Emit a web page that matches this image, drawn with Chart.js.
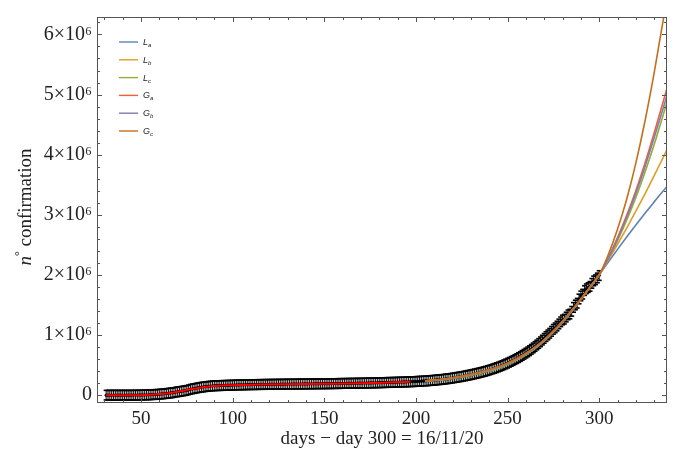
<!DOCTYPE html>
<html><head><meta charset="utf-8">
<script src="https://cdn.jsdelivr.net/npm/chart.js@4"></script>
<style>html,body{margin:0;padding:0;background:#fff;}#wrap{width:679px;height:452px;}</style>
</head><body><div id="wrap"><canvas id="c" width="679" height="452"></canvas></div>
<script>
// ---- data (thousands of confirmed cases) ----
const firstDay = 31;
const casesK = [
  0,0,0,0,0,0,0,0,0,0,
  0,0,0,0,0,1,1,1,2,2,
  3,4,5,5,7,9,11,12,14,16,
  20,22,25,29,32,37,40,44,52,56,
  60,65,70,75,80,90,98,105,110,117,
  122,128,133,137,141,145,148,151,154,156,
  158,159,160,161,162,163,164,165,166,167,
  168,169,170,171,172,172,173,174,175,175,
  176,176,177,177,178,178,179,179,180,180,
  180,181,181,182,182,182,183,183,183,184,
  184,184,185,185,185,186,186,186,187,187,
  187,188,188,188,189,189,189,190,190,190,
  191,191,192,192,193,193,194,194,195,195,
  196,196,197,197,198,198,199,199,200,200,
  201,201,202,203,203,204,205,205,206,207,
  208,209,210,211,212,212,213,214,215,216,
  217,218,219,220,221,222,224,225,226,228,
  230,231,233,235,237,239,241,244,246,249,
  252,255,258,261,264,268,272,276,280,285,
  290,295,300,305,310,316,322,328,334,340,
  347,354,361,368,375,383,391,399,408,417,
  427,437,447,458,469,481,493,506,519,533,
  547,562,577,593,609,626,643,661,680,700,
  720,741,763,786,810,835,861,888,916,945,
  975,1003,1030,1062,1095,1120,1150,1185,1220,1250,
  1265,1300,1335,1350,1395,1460,1500,1530,1600,1650,
  1680,1740,1770,1790,1810,1860,1900,1920,1950,1990
];
const errorK = 80;

const fitDays = [31,45,52,57,62,67,72,77,82,87,92,97,105,115,130,150,170,185,197];
const fitK    = [0,0,3,10,22,42,68,98,124,143,156,164,171,177,183,189,197,210,222];

const modelDays = [205,210,215,220,225,230,235,240,245,250,255,260,265,270,275,280,285,290,295,300,305,310,315,320,325,330,335,337];
const La = [240,252,267,289,315,346,382,421,469,529,605,695,800,922,1068,1230,1408,1596,1797,2000,2215,2425,2630,2830,3025,3215,3400,3470];
const Lb = [238,250,265,287,312,342,378,417,465,524,600,690,795,918,1062,1222,1400,1590,1795,2000,2250,2510,2780,3060,3350,3650,3960,4085];
const Lc = [230,240,253,272,297,327,362,402,450,510,585,672,775,900,1045,1210,1392,1588,1795,2000,2270,2570,2910,3290,3710,4170,4670,4875];
const Ga = [237,249,264,285,310,341,377,417,465,525,598,686,790,912,1056,1220,1400,1592,1797,2000,2290,2620,2990,3400,3860,4360,4890,5105];
const Gb = [236,248,263,284,309,340,376,416,464,524,597,685,788,910,1054,1218,1398,1591,1796,2000,2280,2600,2960,3360,3800,4280,4780,4985];
const Gc = [240,253,269,291,317,349,386,427,476,536,610,697,800,922,1066,1230,1408,1598,1800,2000,2340,2760,3260,3860,4560,5360,6250,6640];

const modelNames  = ['L','L','L','G','G','G'];
const modelSubs   = ['a','b','c','a','b','c'];
const modelSeries = [La, Lb, Lc, Ga, Gb, Gc];
const modelColors = ['#5e81b5','#e19c24','#8fb032','#eb6235','#8778b3','#c56e1a'];

const xTicks = [50,100,150,200,250,300];
const yTicks = [0,1e6,2e6,3e6,4e6,5e6,6e6];
const yTickLabels = ['0','1×10⁶','2×10⁶','3×10⁶','4×10⁶','5×10⁶','6×10⁶'];
const xTitle = 'days − day 300 = 16/11/20';

// ---- build datasets ----
const K = 1000;
const obsPoints = casesK.map((v, i) => ({x: firstDay + i, y: v * K}));
const datasets = [
  {label:'data', data: obsPoints, showLine:false, pointRadius:1.2, pointHoverRadius:0,
   backgroundColor:'#000', borderColor:'#000', errorBar: errorK * K, order: 10},
  {label:'fit', data: fitDays.map((d,i)=>({x:d, y:fitK[i]*K})), showLine:true, pointRadius:0,
   borderColor:'#ff0000', borderWidth:2, cubicInterpolationMode:'monotone', order: 9}
];
modelSeries.forEach((s, k) => {
  datasets.push({label: modelNames[k] + modelSubs[k], legendMain: modelNames[k], legendSub: modelSubs[k],
    data: modelDays.map((d,i)=>({x:d, y:s[i]*K})), showLine:true, pointRadius:0,
    borderColor: modelColors[k], borderWidth:1.6, cubicInterpolationMode:'monotone', order: 8 - k});
});

const SERIF = '"Liberation Serif", "DejaVu Serif", serif';
const SANS = '"Liberation Sans", "DejaVu Sans", sans-serif';

const errorBars = {
  id:'errorBars',
  beforeDatasetsDraw(chart){
    const {ctx, chartArea:a, scales:{x,y}} = chart;
    const ds = chart.data.datasets.find(d => d.errorBar);
    ctx.save();
    ctx.beginPath(); ctx.rect(a.left, a.top, a.right-a.left, a.bottom-a.top); ctx.clip();
    ctx.lineWidth = 1.1;
    ctx.strokeStyle = 'rgba(0,0,0,0.9)';
    ds.data.forEach(p => {
      const px = x.getPixelForValue(p.x);
      const y1 = y.getPixelForValue(p.y - ds.errorBar), y2 = y.getPixelForValue(p.y + ds.errorBar);
      ctx.beginPath(); ctx.moveTo(px, y1); ctx.lineTo(px, y2); ctx.stroke();
    });
    ctx.strokeStyle = '#000'; ctx.lineWidth = 1.6;
    ds.data.forEach(p => {
      const px = x.getPixelForValue(p.x);
      [p.y - ds.errorBar, p.y + ds.errorBar].forEach(v => {
        const py = y.getPixelForValue(v);
        ctx.beginPath(); ctx.moveTo(px-2.5, py); ctx.lineTo(px+2.5, py); ctx.stroke();
      });
    });
    ctx.restore();
  }
};

const frame = {
  id:'frame',
  afterDatasetsDraw(chart){
    const {ctx, chartArea:a, scales:{x,y}} = chart;
    ctx.save();
    ctx.strokeStyle = '#555'; ctx.lineWidth = 1;
    ctx.strokeRect(a.left+0.5, a.top+0.5, a.right-a.left-1, a.bottom-a.top-1);
    const seg = (x1,y1,x2,y2)=>{ctx.beginPath();ctx.moveTo(x1,y1);ctx.lineTo(x2,y2);ctx.stroke();};
    for (let v = 30; v <= x.max; v += 10) {
      const px = Math.round(x.getPixelForValue(v)) + 0.5;
      const len = xTicks.includes(v) ? 5 : 3;
      seg(px, a.bottom, px, a.bottom-len); seg(px, a.top, px, a.top+len);
    }
    for (let k = 0; k <= 31; k++) {
      const v = k * 2e5;
      if (v > y.max) break;
      const py = Math.round(y.getPixelForValue(v)) + 0.5;
      const len = (k % 5 === 0) ? 5 : 3;
      seg(a.left, py, a.left+len, py); seg(a.right, py, a.right-len, py);
    }
    ctx.restore();
  },
  afterDraw(chart){
    const {ctx} = chart;
    // y axis title with italic n and raised degree sign
    ctx.save();
    ctx.translate(31, 207);
    ctx.rotate(-Math.PI/2);
    ctx.fillStyle = '#222';
    ctx.textBaseline = 'alphabetic';
    const parts = [
      {t:'n', f:'italic 19px '+SERIF, dy:0},
      {t:'°', f:'12px '+SERIF, dy:-8},
      {t:' confirmation', f:'19px '+SERIF, dy:0}
    ];
    let total = 0;
    parts.forEach(p => {ctx.font = p.f; p.w = ctx.measureText(p.t).width; total += p.w;});
    let cx = -total/2;
    parts.forEach(p => {ctx.font = p.f; ctx.fillText(p.t, cx, p.dy); cx += p.w;});
    ctx.restore();
    // inset legend
    ctx.save();
    const items = chart.data.datasets.filter(d => d.legendMain);
    items.forEach((d, i) => {
      const yy = 42 + i * 17.8;
      ctx.strokeStyle = d.borderColor; ctx.lineWidth = 1.4;
      ctx.beginPath(); ctx.moveTo(119, yy); ctx.lineTo(138, yy); ctx.stroke();
      ctx.fillStyle = '#222';
      ctx.textBaseline = 'alphabetic';
      ctx.font = 'italic 9px '+SANS;
      ctx.fillText(d.legendMain, 143, yy+3);
      const w = ctx.measureText(d.legendMain).width;
      ctx.font = 'italic 6px '+SANS;
      ctx.fillText(d.legendSub, 143+w, yy+5);
    });
    ctx.restore();
  }
};

new Chart(document.getElementById('c'), {
  type:'scatter',
  data:{datasets},
  options:{
    responsive:false, animation:false, devicePixelRatio:1,
    layout:{padding:{left:0, top:5, right:12, bottom:0}},
    plugins:{legend:{display:false}, tooltip:{enabled:false}},
    scales:{
      x:{type:'linear', min:26, max:337,
        grid:{display:false, drawTicks:false}, border:{display:false},
        afterBuildTicks: s => { s.ticks = xTicks.map(v => ({value:v})); },
        afterFit: s => { s.height = 49; },
        ticks:{color:'#222', font:{family:SERIF, size:19}, padding:5, maxRotation:0, autoSkip:false,
          callback: v => String(v)},
        title:{display:true, text:xTitle, color:'#222', font:{family:SERIF, size:19}, padding:{top:0,bottom:2}}
      },
      y:{type:'linear', min:-130000, max:6290000,
        grid:{display:false, drawTicks:false}, border:{display:false},
        afterBuildTicks: s => { s.ticks = yTicks.map(v => ({value:v})); },
        afterFit: s => { s.width = 97; },
        ticks:{color:'#222', font:{family:SERIF, size:20}, padding:5, autoSkip:false,
          callback: v => yTickLabels[yTicks.indexOf(v)]}
      }
    }
  },
  plugins:[errorBars, frame]
});
</script></body></html>
